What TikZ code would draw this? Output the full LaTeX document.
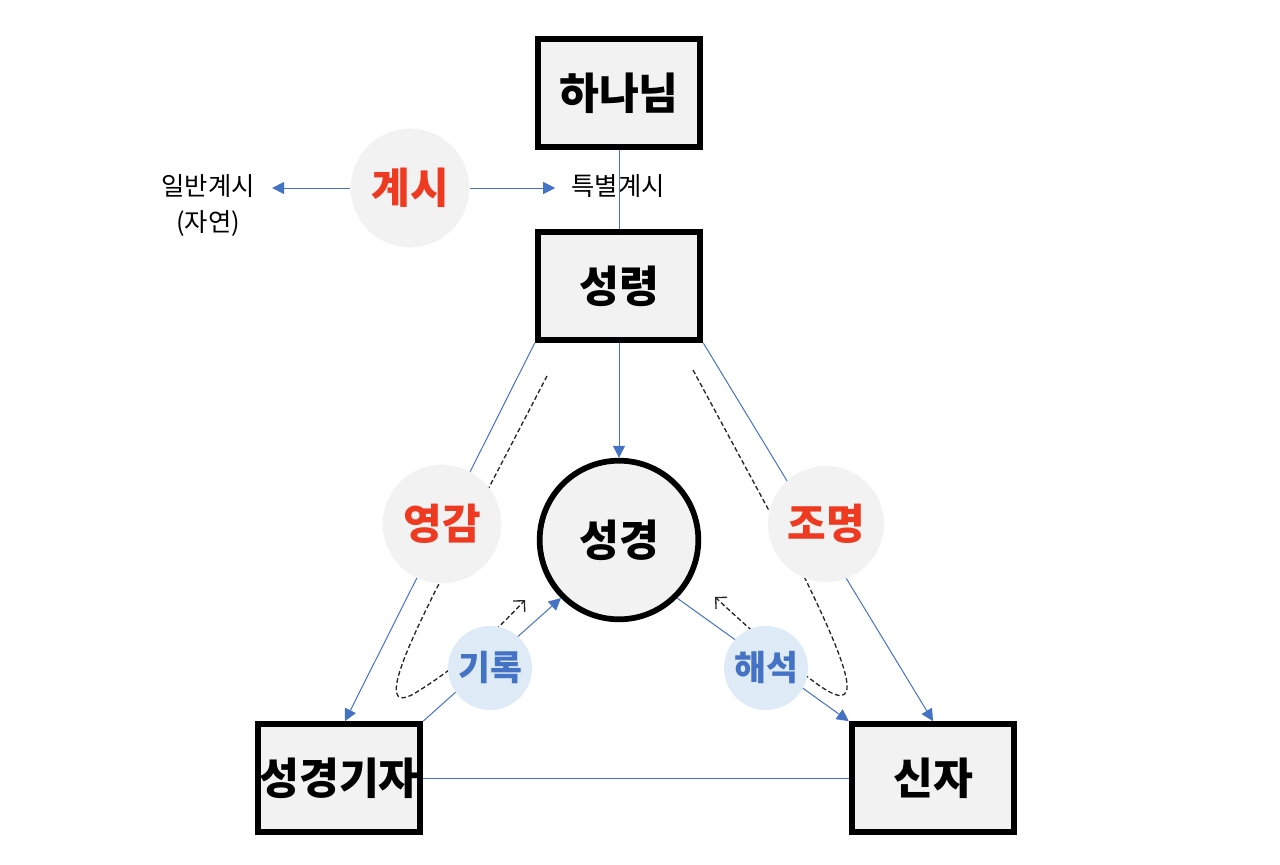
\documentclass[tikz,border=0pt]{standalone}
\usepackage{fontspec}
\setmainfont{Noto Sans CJK KR}
\usetikzlibrary{arrows.meta,positioning}

\definecolor{lineblue}{RGB}{68,114,196}
\definecolor{boxgray}{RGB}{242,242,242}
\definecolor{textred}{RGB}{238,58,32}
\definecolor{lightblue}{RGB}{222,235,247}

\tikzset{every picture/.style={line width=0.75pt}}
\tikzset{
  bigbox/.style={draw=black, line width=4.3pt, fill=boxgray, minimum width=122pt, minimum height=81pt, inner sep=0pt, font=\fontsize{32.5}{38}\selectfont\bfseries},
  graydot/.style={circle, fill=boxgray, minimum size=89pt, inner sep=0pt, text=textred, font=\fontsize{31.5}{36}\selectfont\bfseries},
  bluedot/.style={circle, fill=lightblue, minimum size=63pt, inner sep=0pt, text=lineblue, font=\fontsize{26}{30}\selectfont\bfseries},
  blueline/.style={draw=lineblue, line width=0.75pt},
  bluearrow/.style={blueline, -{Triangle[length=9pt,width=9pt]}},
  plaintext/.style={inner sep=0.75pt, font=\fontsize{19}{22}\selectfont},
  flowline/.style={draw=black!85, line width=1pt, dash pattern={on 3.5pt off 2pt}, -{Straight Barb[length=6pt,width=12pt]}}
}

\begin{document}
\begin{tikzpicture}[x=0.75pt,y=0.75pt,yscale=-1,xscale=1]
\useasboundingbox (0,0) rectangle (1280,864);

%Shape: Rectangle
\node[bigbox] (god) at (619,93) {하나님};
%Shape: Rectangle
\node[bigbox] (spirit) at (619,286) {성령};
%Shape: Circle
\node[circle, draw=black, line width=4.3pt, fill=boxgray, minimum size=119pt, inner sep=0pt, font=\fontsize{32.5}{38}\selectfont\bfseries] (bible) at (619,540) {성경};
%Shape: Rectangle
\node[bigbox] (writer) at (339,778) {성경기자};
%Shape: Rectangle
\node[bigbox] (believer) at (933,778) {신자};

% Text Node
\node[plaintext] (general) at (208,186) {일반계시};
% Text Node
\node[plaintext] (nature) at (208,224) {(자연)};
% Text Node
\node[plaintext] (special) at (618,186) {특별계시};

%Straight Lines
\draw[blueline] (god) -- (spirit);
\draw[bluearrow] (spirit) -- (bible);
\draw[bluearrow] (spirit.south west) -- ([xshift=4.5pt]writer.north);
\draw[bluearrow] (spirit.south east) -- (believer.north);
\draw[bluearrow] (writer.north east) -- (bible.225);
\draw[bluearrow] (bible.-45) -- (believer.north west);
\draw[blueline] (writer) -- (believer);

%Curve Lines
\coordinate (lstart) at (547,376);
\coordinate (lend) at (525,600);
\draw[flowline] (lstart) -- (445,572) .. controls (405,650) and (372,722) .. (420,690) .. controls (460,665) and (495,632) .. (lend);
\coordinate (rstart) at (693,370);
\coordinate (rend) at (715,597);
\draw[flowline] (rstart) -- (800,568) .. controls (840,650) and (872,722) .. (820,686) .. controls (790,665) and (745,625) .. (rend);

%Shape: Circle
\node[graydot] (reveal) at (410,188) {계시};
%Shape: Circle
\node[graydot] (inspire) at (442,524) {영감};
%Shape: Circle
\node[graydot, minimum size=87pt] (illumine) at (826,524) {조명};
%Shape: Circle
\node[bluedot] (record) at (490,668) {기록};
%Shape: Circle
\node[bluedot] (interpret) at (766,668) {해석};

%Straight Lines
\draw[bluearrow, shorten >=12pt] (reveal.west) -- (reveal.west -| general.east);
\draw[bluearrow, shorten >=11pt] (reveal.east) -- (reveal.east -| special.west);

\end{tikzpicture}
\end{document}
